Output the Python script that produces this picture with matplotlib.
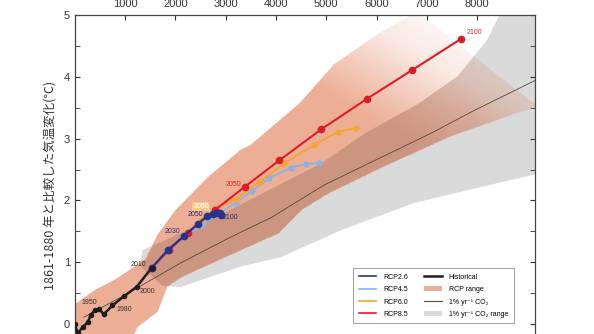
import numpy as np
import matplotlib.pyplot as plt
from matplotlib.lines import Line2D
from matplotlib.patches import Patch, Polygon
from matplotlib.path import Path
from matplotlib.ticker import MultipleLocator

plt.rcParams['font.family'] = ['Liberation Sans', 'DejaVu Sans']

# cumulative CO2 emissions (GtCO2) and temperature anomaly (degC)
hist_x = [0, 60, 160, 260, 320, 400, 480, 580, 750, 980, 1230, 1530]
hist_y = [0.0, -0.15, -0.05, 0.03, 0.15, 0.22, 0.24, 0.16, 0.30, 0.45, 0.60, 0.91]

rcp26_x = [1530, 1850, 2180, 2450, 2630, 2750, 2810, 2860, 2890, 2910]
rcp26_y = [0.91, 1.20, 1.43, 1.62, 1.75, 1.78, 1.80, 1.80, 1.79, 1.77]

rcp45_x = [1530, 1850, 2180, 2520, 2850, 3200, 3520, 3860, 4300, 4600, 4850]
rcp45_y = [0.91, 1.18, 1.40, 1.60, 1.78, 1.96, 2.15, 2.36, 2.53, 2.59, 2.60]

rcp60_x = [1530, 1860, 2200, 2500, 2820, 3210, 3670, 4160, 4760, 5240, 5600]
rcp60_y = [0.91, 1.20, 1.45, 1.68, 1.88, 2.02, 2.30, 2.60, 2.90, 3.11, 3.17]

rcp85_x = [1530, 1880, 2250, 2780, 3380, 4070, 4900, 5800, 6710, 7670]
rcp85_y = [0.91, 1.20, 1.48, 1.84, 2.22, 2.65, 3.15, 3.64, 4.11, 4.61]

onepct_x = [180, 1000, 2110, 3110, 3900, 4960, 6100, 7090, 7950, 9200]
onepct_y = [0.11, 0.47, 0.99, 1.41, 1.72, 2.25, 2.70, 3.09, 3.46, 3.96]

# RCP range envelope
rcp_up_x = [0, 400, 800, 1100, 1400, 1650, 2000, 2650, 3300, 3500, 4480, 5150, 6040, 6800]
rcp_up_y = [0.32, 0.55, 0.72, 0.88, 1.05, 1.45, 1.84, 2.38, 2.82, 2.90, 3.58, 4.20, 4.70, 5.05]
rcp_lo_x = [0, 1100, 1250, 1650, 1850, 2110, 2970, 4040, 4500, 5040, 6100, 7430, 8750, 9200]
rcp_lo_y = [-0.40, -0.30, -0.05, 0.20, 0.62, 0.76, 1.08, 1.47, 1.85, 2.12, 2.54, 3.03, 3.41, 3.52]

# 1% yr-1 CO2 range envelope
pct_up_x = [1300, 1350, 1700, 3100, 4900, 5800, 6800, 7600, 8200, 8500, 9200]
pct_up_y = [0.95, 1.20, 1.32, 1.85, 2.60, 3.10, 3.55, 4.00, 4.60, 5.10, 5.10]
pct_lo_x = [1350, 1750, 2110, 3300, 4100, 5300, 6750, 8090, 9200]
pct_lo_y = [0.90, 0.62, 0.60, 0.93, 1.08, 1.52, 1.96, 2.22, 2.43]

years = [
    ("1950", 280, 0.34, "#333333"),
    ("1980", 980, 0.23, "#333333"),
    ("2000", 1450, 0.53, "#333333"),
    ("2010", 1270, 0.97, "#333333"),
    ("2030", 1950, 1.49, "#2a2f6e"),
    ("2050", 2390, 1.78, "#2a2f6e"),
    ("2100", 3100, 1.72, "#2a2f6e"),
    ("2050", 3150, 2.26, "#d62a2a"),
    ("2100", 7950, 4.71, "#d62a2a"),
]

c26 = "#28328f"
c45 = "#8db3e0"
c60 = "#f4a535"
c85 = "#d91f26"
salmon = (0xed / 255, 0xae / 255, 0x96 / 255)
brown = (0xcc / 255, 0x95 / 255, 0x80 / 255)
grey = "#dadada"

fig = plt.figure(figsize=(5.94, 3.34), dpi=100)
ax = fig.add_axes([0.1258, -0.0256, 0.775, 0.9807])
ax.set_xlim(0, 9150)
ax.set_ylim(-0.3, 5)

rcp_pts = list(zip(rcp_up_x, rcp_up_y)) + list(zip(rcp_lo_x, rcp_lo_y))[::-1]
pct_pts = list(zip(pct_up_x, pct_up_y)) + list(zip(pct_lo_x, pct_lo_y))[::-1]

# 1% yr-1 CO2 range
pct_poly = Polygon(pct_pts, closed=True, facecolor=grey, edgecolor="none", zorder=1)
ax.add_patch(pct_poly)

# RCP range, fading towards the end of the century
rcp_poly = Polygon(rcp_pts, closed=True, facecolor="none", edgecolor="none")
ax.add_patch(rcp_poly)
ext = [0, 9200, -0.5, 5.2]
gx, gy = np.meshgrid(np.linspace(ext[0], ext[1], 600), np.linspace(ext[2], ext[3], 400))
fade = np.interp(gx / 1000 + 2 * gy, [0, 12.5, 14.6, 15.5, 17.5], [1, 1, 0.5, 0.28, 0.05])
inside = Path(rcp_pts).contains_points(np.c_[gx.ravel(), gy.ravel()]).reshape(gx.shape)

img = np.zeros(gx.shape + (4,))
img[..., :3] = salmon
img[..., 3] = fade
im = ax.imshow(img, extent=ext, origin="lower", aspect="auto", interpolation="bilinear", zorder=2)
im.set_clip_path(rcp_poly)

# overlap of both ranges
img2 = np.zeros(gx.shape + (4,))
img2[..., :3] = brown
img2[..., 3] = fade * inside
im2 = ax.imshow(img2, extent=ext, origin="lower", aspect="auto", interpolation="bilinear", zorder=3)
clip2 = Polygon(pct_pts, closed=True, facecolor="none", edgecolor="none")
ax.add_patch(clip2)
im2.set_clip_path(clip2)

ax.plot(onepct_x, onepct_y, color="#5a4640", lw=0.6, zorder=4)

ax.plot(rcp45_x, rcp45_y, color=c45, lw=1.4, marker="o", ms=3.5, zorder=5)
ax.plot(rcp60_x, rcp60_y, color=c60, lw=1.4, marker="o", ms=3.5, zorder=5)
ax.plot(rcp85_x, rcp85_y, color=c85, lw=1.5, marker="o", ms=4.5, zorder=6)
ax.plot(rcp26_x, rcp26_y, color=c26, lw=1.5, marker="o", ms=4.5, zorder=7)
ax.plot(hist_x, hist_y, color="#1e1e1e", lw=1.8, marker="o", ms=3, zorder=8)

for label, x, y, col in years:
    ax.text(x, y, label, fontsize=5, color=col, ha="center", va="center", zorder=9)
ax.text(2510, 1.90, "2050", fontsize=5, color="#ffffff", ha="center", va="center", zorder=9,
        bbox=dict(boxstyle="square,pad=0.15", facecolor="#f9c98c", edgecolor="none"))

ax.xaxis.tick_top()
ax.set_xticks([1000, 2000, 3000, 4000, 5000, 6000, 7000, 8000])
ax.tick_params(axis="x", direction="in", length=3.5, pad=4.5, labelsize=8, colors="#333333")
ax.yaxis.set_major_locator(MultipleLocator(1))
ax.yaxis.set_minor_locator(MultipleLocator(0.5))
ax.tick_params(axis="y", which="both", direction="in", left=True, right=True,
               length=3.5, pad=3.5, labelsize=8, colors="#333333")
for s in ax.spines.values():
    s.set_color("#444444")
    s.set_linewidth(0.9)

ax.set_ylabel("1861-1880 年と比較した気温変化(℃)", fontsize=9, color="#333333",
              family=["Noto Sans CJK JP", "DejaVu Sans"])
ax.yaxis.set_label_coords(-0.037, 0.48)

handles = [
    Line2D([], [], color=c26, lw=1.2),
    Line2D([], [], color=c45, lw=1.2),
    Line2D([], [], color=c60, lw=1.2),
    Line2D([], [], color=c85, lw=1.2),
    Line2D([], [], color="#1e1e1e", lw=1.8),
    Patch(facecolor=salmon, edgecolor="none"),
    Line2D([], [], color="#5a4640", lw=0.8),
    Patch(facecolor=grey, edgecolor="none"),
]
labels = ["RCP2.6", "RCP4.5", "RCP6.0", "RCP8.5",
          "Historical", "RCP range", "1% yr⁻¹ CO₂", "1% yr⁻¹ CO₂ range"]
leg = ax.legend(handles, labels, ncol=2, loc="lower left", bbox_to_anchor=(0.597, 0.048),
                fontsize=5.0, frameon=True, fancybox=False, labelspacing=0.75,
                handlelength=2.5, handleheight=0.8, handletextpad=1.0, columnspacing=2.4,
                borderpad=0.8)
leg.get_frame().set_edgecolor("#888888")
leg.get_frame().set_linewidth(0.7)
leg.set_zorder(10)

fig.savefig("out.png", dpi=100)
